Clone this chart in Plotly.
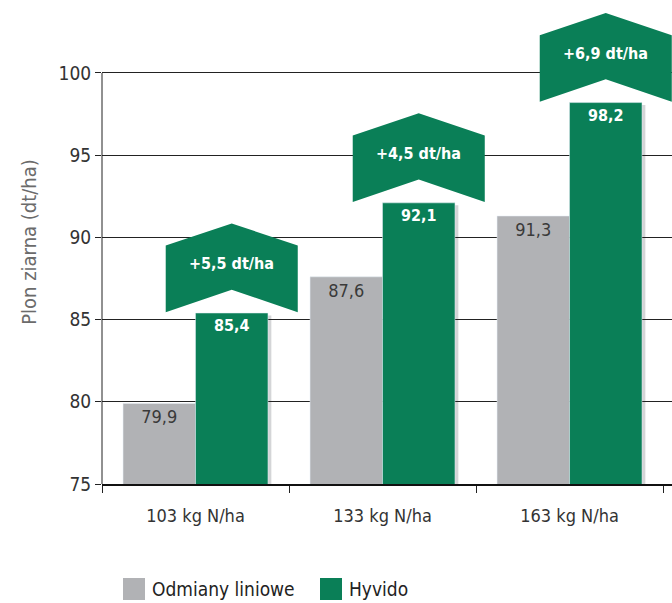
import plotly.graph_objects as go

categories = ["103 kg N/ha", "133 kg N/ha", "163 kg N/ha"]
linie = [79.9, 87.6, 91.3]
hyvido = [85.4, 92.1, 98.2]
gains = [5.5, 4.5, 6.9]
series_names = ["Odmiany liniowe", "Hyvido"]
y_ticks = [75, 80, 85, 90, 95, 100]

GRAY = "#B1B2B5"
GREEN = "#0A7F57"
FONT = "DejaVu Sans Condensed, Liberation Sans Narrow, Roboto, sans-serif"

def fmt(v):
    return f"{v:.1f}".replace(".", ",")

fig = go.Figure()
fig.add_trace(go.Bar(
    x=categories, y=linie, name=series_names[0], marker_color=GRAY,
    text=[fmt(v) for v in linie], textposition="inside", insidetextanchor="end",
    textfont=dict(color="#3a3a3a", size=18, family=FONT), showlegend=False,
))
fig.add_trace(go.Bar(
    x=categories, y=hyvido, name=series_names[1], marker_color=GREEN,
    text=[fmt(v) for v in hyvido], textposition="inside", insidetextanchor="end",
    textfont=dict(color="white", size=16, family=FONT, weight="bold"), showlegend=False,
))

bargap = 0.225
bw = (1 - bargap) / 2
off = bw / 2
hw = 0.353
shapes = []
annotations = []
for i, (v, g) in enumerate(zip(hyvido, gains)):
    cx = i + off
    # soft shadow at right edge of green bar
    shapes.append(dict(type="rect", xref="x", yref="y", x0=cx + bw / 2, x1=cx + bw / 2 + 0.018,
                       y0=75, y1=v - 0.15, fillcolor="#d4d5d7", line=dict(width=0), layer="below"))
    path = (f"M {cx-hw},{v+0.05} L {cx-hw},{v+4.1} L {cx},{v+5.45} "
            f"L {cx+hw},{v+4.1} L {cx+hw},{v+0.05} L {cx},{v+1.42} Z")
    shapes.append(dict(type="path", path=path, xref="x", yref="y",
                       fillcolor=GREEN, line=dict(width=0), layer="above"))
    annotations.append(dict(x=cx, y=v + 3.0, xref="x", yref="y",
                            text=f"<b>+{fmt(g)} dt/ha</b>", showarrow=False,
                            font=dict(color="white", size=16, family=FONT)))

# y axis vertical line
shapes.append(dict(type="line", xref="paper", yref="y", x0=0, x1=0, y0=74.8, y1=100,
                   line=dict(color="#222", width=1)))

# legend (squares + labels)
leg_items = [(series_names[0], GRAY, 123), (series_names[1], GREEN, 320)]
sq_top, sq_bot = 578, 600
for name, col, px in leg_items:
    x0 = (px - 102) / 570
    shapes.append(dict(type="rect", xref="paper", yref="paper",
                       x0=x0, x1=x0 + 22 / 570, y0=-(sq_top - 484) / 484, y1=-(sq_bot - 484) / 484,
                       fillcolor=col, line=dict(width=0)))
    annotations.append(dict(x=x0 + 27 / 570, y=-((sq_top + sq_bot) / 2 - 484) / 484, xref="paper", yref="paper",
                            xanchor="left", yanchor="middle", text=name, showarrow=False,
                            font=dict(color="#222", size=19, family=FONT)))

fig.update_layout(
    width=672, height=603,
    margin=dict(l=102, r=0, t=0, b=119, autoexpand=False),
    barmode="group", bargap=bargap, bargroupgap=0,
    plot_bgcolor="white", paper_bgcolor="white",
    font=dict(family=FONT, color="#333"),
    shapes=shapes, annotations=annotations,
    showlegend=False,
)
fig.update_xaxes(
    type="category", range=[-0.5, 2.548], tickson="boundaries",
    ticks="outside", ticklen=7, tickcolor="#222", tickwidth=1,
    showline=True, linecolor="#111", linewidth=2,
    showgrid=False, tickfont=dict(size=18, color="#333", family=FONT),
    ticklabelstandoff=14, automargin=False,
)
fig.update_yaxes(
    range=[75, 104.44], tickvals=y_ticks, ticks="outside", ticklen=6,
    tickcolor="#222", showgrid=True, gridcolor="#222", gridwidth=1,
    showline=False, zeroline=False, automargin=False,
    tickfont=dict(size=19, color="#333", family=FONT),
    title=dict(text="Plon ziarna (dt/ha)", font=dict(size=20, color="#6b6b6b", family=FONT), standoff=16),
)

fig.write_html("out.html", config={"displayModeBar": False},
               post_script="document.body.style.margin='0';document.body.style.overflow='hidden';")
